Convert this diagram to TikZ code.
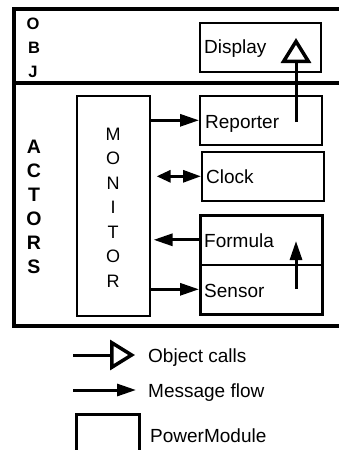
\documentclass[tikz,border=0pt]{standalone}
\usepackage{fontspec}
\setmainfont{Liberation Sans}
\usetikzlibrary{arrows.meta}
\begin{document}
\begin{tikzpicture}[x=1pt,y=-1pt,
  lbl/.style={font=\fontsize{19}{21}\selectfont, anchor=base west, inner sep=0pt},
  vletter/.style={font=\fontsize{18}{20}\selectfont, anchor=base, inner sep=0pt},
  bletter/.style={font=\bfseries\fontsize{19.5}{21}\selectfont, anchor=base, inner sep=0pt},
  oletter/.style={font=\bfseries\fontsize{16.5}{18}\selectfont, anchor=base, inner sep=0pt},
  thinbox/.style={draw, line width=1.6pt, inner sep=0pt, anchor=north west},
  thickbox/.style={draw, line width=3.2pt, inner sep=0pt, anchor=north west},
  msg/.style={line width=3pt, -{Triangle[length=19pt,width=12pt]}},
  dmsg/.style={line width=3pt, {Triangle[length=14pt,width=12pt]}-{Triangle[length=18pt,width=12pt]}},
  ocall/.style={line width=3pt, -{Triangle[open,length=25pt,width=30pt,line width=3.5pt]}},
  frameline/.style={line width=3.4pt}]
\clip (0,0) rectangle (339,450);
% outer frame
\draw[frameline] (350,9) -- (14,9) -- (14,326) -- (350,326);
\draw[frameline] (14,83) -- (350,83);
% OBJ
\node[oletter] (o1) at (33,29) {O};
\node[oletter] (o2) at (34,53) {B};
\node[oletter] (o3) at (33,77) {J};
% ACTORS
\foreach \l [count=\i] in {A,C,T,O,R,S}
  \node[bletter] (act\i) at (34,129+24*\i) {\l};
% Monitor
\node[thinbox, minimum width=73pt, minimum height=220pt] (monitor) at (76,95) {};
\foreach \l [count=\i] in {M,O,N,I,T,O,R}
  \node[vletter] (mon\i) at (113,115.5+24.5*\i) {\l};
% Boxes
\node[thinbox, minimum width=121pt, minimum height=49pt] (display) at (199,22) {};
\node[thinbox, minimum width=122pt, minimum height=49pt] (reporter) at (199,95) {};
\node[thinbox, minimum width=122pt, minimum height=49pt] (clock) at (201,151) {};
\node[thinbox, minimum width=122pt, minimum height=50pt] (formula) at (199,214) {};
\node[thinbox, minimum width=122pt, minimum height=49pt] (sensor) at (199,264) {};
\node[thickbox, minimum width=122pt, minimum height=99pt] (power) at (199,214) {};
% labels
\node[lbl] (tdisplay) at (204,53) {Display};
\node[lbl] (treporter) at (205,128) {Reporter};
\node[lbl] (tclock) at (206,183) {Clock};
\node[lbl] (tformula) at (204,247) {Formula};
\node[lbl] (tsensor) at (204,297) {Sensor};
% connectors
\coordinate (rp) at (296,122);
\coordinate (dp) at (296,38);
\draw[ocall] (rp) -- (dp);
\draw[msg] (monitor.east |- reporter.west) -- (reporter.west);
\draw[dmsg] ([xshift=6pt]monitor.east |- clock.west) -- (clock.west);
\draw[msg] (formula.west) -- ([xshift=3pt]monitor.east |- formula.west);
\draw[msg] (monitor.east |- sensor.west) -- (sensor.west);
\coordinate (sp) at (296,289);
\coordinate (fp) at (296,241);
\draw[msg] (sp) -- (fp);
% legend
\coordinate (la1) at (73,355);
\coordinate (la2) at (135,355);
\draw[ocall] (la1) -- (la2);
\coordinate (lb1) at (73,390);
\coordinate (lb2) at (136,390);
\draw[msg] (lb1) -- (lb2);
\node[thickbox, minimum width=63pt, minimum height=50pt] (legbox) at (75,413) {};
\node[lbl] (tobj) at (148,362) {Object calls};
\node[lbl] (tmsg) at (148,397) {Message flow};
\node[lbl] (tpow) at (150,442) {PowerModule};
\end{tikzpicture}
\end{document}
